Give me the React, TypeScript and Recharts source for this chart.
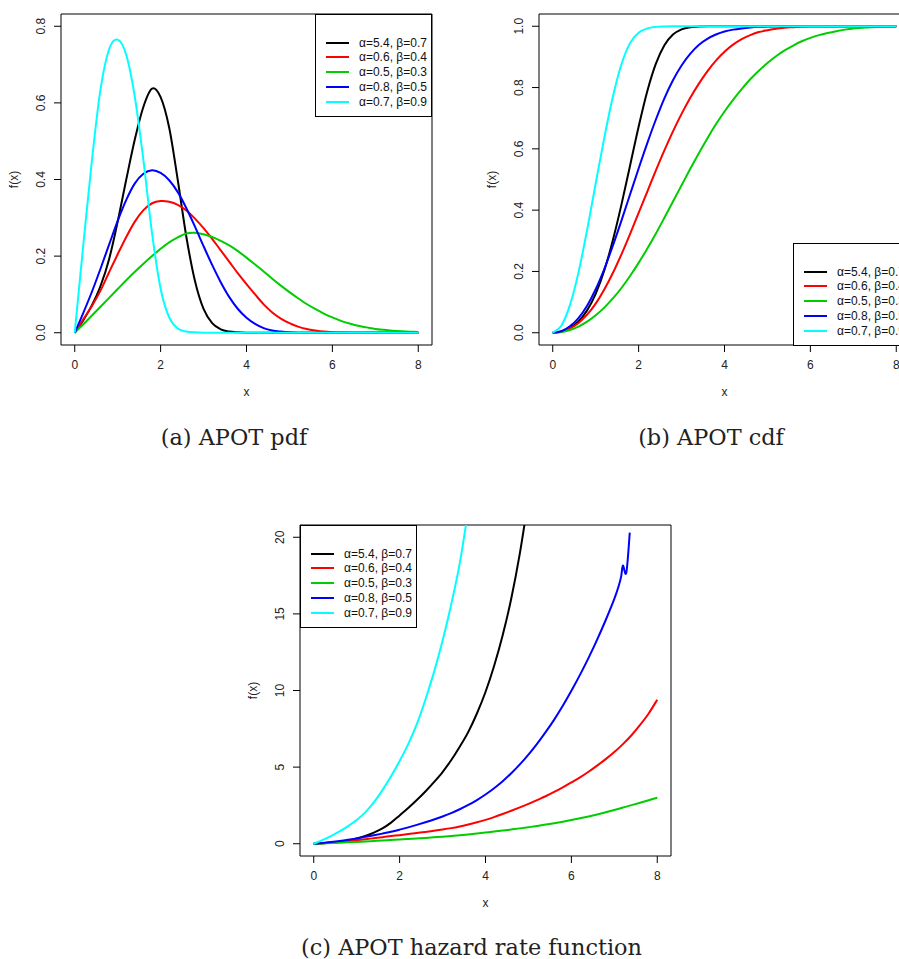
import React from 'react';
import { LineChart, Line, XAxis, YAxis, ReferenceArea, Legend } from 'recharts';

const SANS = '"Liberation Sans", Arial, Helvetica, sans-serif';
const SERIF = '"DejaVu Serif", serif';

// shared x grid (step 0.2)
const xGrid = [0, 0.2, 0.4, 0.6, 0.8, 1, 1.2, 1.4, 1.6, 1.8, 2, 2.2, 2.4, 2.6, 2.8, 3, 3.2, 3.4, 3.6, 3.8, 4, 4.2, 4.4, 4.6, 4.8, 5, 5.2, 5.4, 5.6, 5.8, 6, 6.2, 6.4, 6.6, 6.8, 7, 7.2, 7.4, 7.6, 7.8, 8];

const seriesNames = ['α=5.4, β=0.7', 'α=0.6, β=0.4', 'α=0.5, β=0.3', 'α=0.8, β=0.5', 'α=0.7, β=0.9'];
const seriesColors = ['#000000', '#ff0000', '#00cd00', '#0000ff', '#00ffff'];

const xTicks = [0, 2, 4, 6, 8];
const pdfTicks = [0, 0.2, 0.4, 0.6, 0.8];
const cdfTicks = [0, 0.2, 0.4, 0.6, 0.8, 1];
const hazTicks = [0, 5, 10, 15, 20];

// (a) pdf
const pdfBlack = [0, 0.033, 0.072, 0.122, 0.192, 0.29, 0.4, 0.505, 0.59, 0.637, 0.615, 0.535, 0.398, 0.25, 0.135, 0.062, 0.025, 0.009, 0.003, 0.001, 0, 0, 0, 0, 0, 0, 0, 0, 0, 0, 0, 0, 0, 0, 0, 0, 0, 0, 0, 0, 0];
const pdfRed = [0, 0.035, 0.07, 0.11, 0.158, 0.205, 0.25, 0.29, 0.32, 0.338, 0.344, 0.342, 0.334, 0.319, 0.298, 0.273, 0.245, 0.215, 0.185, 0.155, 0.127, 0.1, 0.074, 0.053, 0.037, 0.025, 0.016, 0.01, 0.006, 0.003, 0.0015, 0.0007, 0.0003, 0, 0, 0, 0, 0, 0, 0, 0];
const pdfGreen = [0, 0.022, 0.045, 0.068, 0.091, 0.114, 0.137, 0.159, 0.18, 0.2, 0.219, 0.236, 0.249, 0.259, 0.261, 0.257, 0.25, 0.24, 0.228, 0.213, 0.196, 0.178, 0.16, 0.141, 0.123, 0.106, 0.09, 0.075, 0.062, 0.05, 0.04, 0.031, 0.024, 0.018, 0.014, 0.01, 0.0075, 0.0055, 0.004, 0.0028, 0.002];
const pdfBlue = [0, 0.052, 0.107, 0.167, 0.23, 0.292, 0.347, 0.39, 0.415, 0.424, 0.417, 0.398, 0.367, 0.325, 0.277, 0.226, 0.177, 0.132, 0.093, 0.062, 0.039, 0.023, 0.012, 0.006, 0.003, 0.001, 0, 0, 0, 0, 0, 0, 0, 0, 0, 0, 0, 0, 0, 0, 0];
const pdfCyan = [0, 0.23, 0.45, 0.635, 0.74, 0.765, 0.725, 0.615, 0.45, 0.26, 0.115, 0.04, 0.011, 0.003, 0.001, 0, 0, 0, 0, 0, 0, 0, 0, 0, 0, 0, 0, 0, 0, 0, 0, 0, 0, 0, 0, 0, 0, 0, 0, 0, 0];

// (b) cdf
const cdfBlack = [0, 0.004, 0.016, 0.037, 0.073, 0.127, 0.203, 0.302, 0.418, 0.545, 0.672, 0.787, 0.877, 0.938, 0.973, 0.99, 0.997, 0.999, 1, 1, 1, 1, 1, 1, 1, 1, 1, 1, 1, 1, 1, 1, 1, 1, 1, 1, 1, 1, 1, 1, 1];
const cdfRed = [0, 0.0035, 0.014, 0.032, 0.059, 0.095, 0.141, 0.195, 0.256, 0.322, 0.391, 0.46, 0.529, 0.595, 0.657, 0.714, 0.766, 0.812, 0.853, 0.888, 0.917, 0.94, 0.958, 0.971, 0.981, 0.987, 0.992, 0.995, 0.997, 0.999, 1, 1, 1, 1, 1, 1, 1, 1, 1, 1, 1];
const cdfGreen = [0, 0.0022, 0.009, 0.02, 0.036, 0.057, 0.082, 0.112, 0.146, 0.185, 0.228, 0.274, 0.323, 0.375, 0.428, 0.481, 0.534, 0.585, 0.634, 0.68, 0.722, 0.76, 0.795, 0.827, 0.855, 0.88, 0.902, 0.921, 0.937, 0.951, 0.962, 0.971, 0.978, 0.984, 0.989, 0.993, 0.995, 0.997, 0.998, 0.999, 1];
const cdfBlue = [0, 0.005, 0.021, 0.048, 0.088, 0.142, 0.208, 0.284, 0.366, 0.451, 0.536, 0.618, 0.695, 0.765, 0.824, 0.872, 0.91, 0.939, 0.959, 0.973, 0.983, 0.989, 0.993, 0.996, 0.998, 0.999, 1, 1, 1, 1, 1, 1, 1, 1, 1, 1, 1, 1, 1, 1, 1];
const cdfCyan = [0, 0.023, 0.09, 0.197, 0.335, 0.487, 0.636, 0.77, 0.876, 0.945, 0.979, 0.993, 0.998, 0.9995, 1, 1, 1, 1, 1, 1, 1, 1, 1, 1, 1, 1, 1, 1, 1, 1, 1, 1, 1, 1, 1, 1, 1, 1, 1, 1, 1];

// (c) hazard rate (cyan and black run out through the top of the frame)
const hazBlack = [0, 0.035, 0.076, 0.13, 0.215, 0.35, 0.51, 0.73, 1.0, 1.38, 1.85, 2.33, 2.85, 3.41, 4.02, 4.68, 5.45, 6.33, 7.3, 8.5, 9.9, 11.6, 13.6, 16.0, 18.95, 22.5, null, null, null, null, null, null, null, null, null, null, null, null, null, null, null];
const hazRed = [0, 0.035, 0.07, 0.11, 0.165, 0.225, 0.29, 0.36, 0.43, 0.5, 0.56, 0.63, 0.7, 0.77, 0.85, 0.93, 1.02, 1.13, 1.26, 1.4, 1.56, 1.74, 1.94, 2.15, 2.37, 2.6, 2.85, 3.1, 3.38, 3.68, 4.0, 4.33, 4.7, 5.1, 5.52, 5.98, 6.5, 7.08, 7.75, 8.5, 9.4];
const hazGreen = [0, 0.022, 0.045, 0.069, 0.093, 0.12, 0.148, 0.178, 0.21, 0.243, 0.278, 0.31, 0.345, 0.382, 0.42, 0.46, 0.505, 0.555, 0.61, 0.668, 0.73, 0.793, 0.86, 0.93, 1.003, 1.08, 1.16, 1.25, 1.34, 1.44, 1.55, 1.66, 1.78, 1.91, 2.05, 2.2, 2.36, 2.52, 2.68, 2.84, 3.0];
const hazCyan = [0, 0.24, 0.5, 0.8, 1.15, 1.55, 2.05, 2.7, 3.5, 4.4, 5.4, 6.5, 7.8, 9.4, 11.2, 13.25, 15.6, 18.3, 21.8, null, null, null, null, null, null, null, null, null, null, null, null, null, null, null, null, null, null, null, null, null, null];
// blue hazard stops near x=7.36 with a small wiggle just before
const hazBlueX = [0, 0.2, 0.4, 0.6, 0.8, 1, 1.2, 1.4, 1.6, 1.8, 2, 2.2, 2.4, 2.6, 2.8, 3, 3.2, 3.4, 3.6, 3.8, 4, 4.2, 4.4, 4.6, 4.8, 5, 5.2, 5.4, 5.6, 5.8, 6, 6.2, 6.4, 6.6, 6.8, 7, 7.1, 7.16, 7.2, 7.28, 7.36];
const hazBlue = [0, 0.05, 0.107, 0.173, 0.254, 0.347, 0.448, 0.55, 0.66, 0.78, 0.92, 1.07, 1.23, 1.4, 1.58, 1.78, 2.0, 2.25, 2.53, 2.85, 3.21, 3.62, 4.08, 4.6, 5.18, 5.82, 6.52, 7.28, 8.1, 9.0, 9.98, 11.02, 12.13, 13.32, 14.6, 15.98, 16.8, 17.45, 18.15, 17.7, 20.3];

const toRows = (xs: number[], ys: (number | null)[]) => xs.map((x, i) => ({ x, y: ys[i] }));

// Catmull-Rom style curve through the points (smooth peaks, no global ringing)
function smoothCurve(context: any) {
  let pts: number[][] = [];
  return {
    areaStart() {},
    areaEnd() {},
    lineStart() {
      pts = [];
    },
    point(x: number, y: number) {
      pts.push([+x, +y]);
    },
    lineEnd() {
      const n = pts.length;
      if (!n) return;
      context.moveTo(pts[0][0], pts[0][1]);
      for (let i = 0; i < n - 1; i++) {
        const p0 = pts[i - 1] || pts[i];
        const p1 = pts[i];
        const p2 = pts[i + 1];
        const p3 = pts[i + 2] || p2;
        context.bezierCurveTo(
          p1[0] + (p2[0] - p0[0]) / 6, p1[1] + (p2[1] - p0[1]) / 6,
          p2[0] - (p3[0] - p1[0]) / 6, p2[1] - (p3[1] - p1[1]) / 6,
          p2[0], p2[1],
        );
      }
    },
  };
}

const PLOT_W = 371;
const PLOT_H = 331;
const AX_W = 61;
const AX_H = 75;
const M_TOP = 14;
const M_RIGHT = 18;
const X_DOMAIN: [number, number] = [-0.32, 8.32];

function XTick({ x, y, payload }: any) {
  return (
    <text x={x} y={y + 15.3} textAnchor="middle" fontSize={12} fontFamily={SANS} fill="#222">
      {payload.value}
    </text>
  );
}

function YTick({ x, y, payload, fmt }: any) {
  return (
    <text transform={`translate(${x - 6.7},${y}) rotate(-90)`} textAnchor="middle" fontSize={12} fontFamily={SANS} fill="#222">
      {fmt(payload.value)}
    </text>
  );
}

function XTitle({ viewBox }: any) {
  return (
    <text x={viewBox.x + viewBox.width / 2} y={viewBox.y + 51} textAnchor="middle" fontSize={12} fontFamily={SANS} fill="#222">
      x
    </text>
  );
}

function YTitle({ viewBox }: any) {
  const cx = viewBox.x + viewBox.width - 43;
  const cy = viewBox.y + viewBox.height / 2;
  return (
    <text transform={`translate(${cx},${cy}) rotate(-90)`} textAnchor="middle" fontSize={12} fontFamily={SANS} fill="#222">
      f(x)
    </text>
  );
}

function LegendBox({ payload }: any) {
  const items = [...(payload || [])].sort((a: any, b: any) => seriesNames.indexOf(a.value) - seriesNames.indexOf(b.value));
  return (
    <div style={{ position: 'relative', width: '100%', height: '100%', border: '1px solid #000', boxSizing: 'border-box', background: '#fff' }}>
      {items.map((e: any, i: number) => (
        <div key={i} style={{ position: 'absolute', left: 10, top: 20.7 + i * 14.7, height: 14, display: 'flex', alignItems: 'center', whiteSpace: 'nowrap' }}>
          <span style={{ display: 'inline-block', width: 23, height: 2, background: e.color }} />
          <span style={{ marginLeft: 10, fontSize: 12, lineHeight: '14px', fontFamily: SANS, color: '#111' }}>{e.value}</span>
        </div>
      ))}
    </div>
  );
}

type Series = { xs: number[]; ys: (number | null)[] };

function Panel({ boxLeft, boxTop, yDomain, yTicks, yFmt, lines, legendLeft, legendTop }: {
  boxLeft: number; boxTop: number; yDomain: [number, number]; yTicks: number[];
  yFmt: (v: number) => string; lines: Series[]; legendLeft: number; legendTop: number;
}) {
  return (
    <div style={{ position: 'absolute', left: boxLeft - AX_W, top: boxTop - M_TOP }}>
      <LineChart width={AX_W + PLOT_W + M_RIGHT} height={M_TOP + PLOT_H + AX_H} margin={{ top: M_TOP, right: M_RIGHT, bottom: 0, left: 0 }}>
        <XAxis
          type="number" dataKey="x" domain={X_DOMAIN} ticks={xTicks} interval={0} allowDataOverflow
          axisLine={false} tickSize={7} tickMargin={2} tickLine={{ stroke: '#000' }} height={AX_H}
          tick={(p: any) => <XTick {...p} />} label={{ content: (p: any) => <XTitle {...p} /> }}
        />
        <YAxis
          type="number" domain={yDomain} ticks={yTicks} interval={0} allowDataOverflow
          axisLine={false} tickSize={7} tickMargin={2} tickLine={{ stroke: '#000' }} width={AX_W}
          tick={(p: any) => <YTick {...p} fmt={yFmt} />} label={{ content: (p: any) => <YTitle {...p} /> }}
        />
        <ReferenceArea x1={X_DOMAIN[0]} x2={X_DOMAIN[1]} y1={yDomain[0]} y2={yDomain[1]} fill="none" fillOpacity={0} stroke="#000" strokeWidth={1} ifOverflow="visible" />
        {lines.map((s, i) => (
          <Line
            key={seriesNames[i]} data={toRows(s.xs, s.ys)} dataKey="y" name={seriesNames[i]}
            stroke={seriesColors[i]} strokeWidth={2} dot={false} activeDot={false}
            type={smoothCurve as any} isAnimationActive={false}
          />
        ))}
        <Legend
          layout="vertical" align="center" verticalAlign="middle" content={(p: any) => <LegendBox {...p} />}
          wrapperStyle={{ left: legendLeft, top: legendTop, width: 117, height: 103 }}
        />
      </LineChart>
    </div>
  );
}

export default function App() {
  const fmt1 = (v: number) => v.toFixed(1);
  const fmt0 = (v: number) => String(v);
  return (
    <div style={{ position: 'absolute', left: 0, top: 0, width: 899, height: 959, overflow: 'hidden', background: '#fff' }}>
      <Panel
        boxLeft={61} boxTop={14} yDomain={[-0.032, 0.832]} yTicks={pdfTicks} yFmt={fmt1}
        lines={[pdfBlack, pdfRed, pdfGreen, pdfBlue, pdfCyan].map((ys) => ({ xs: xGrid, ys }))}
        legendLeft={315} legendTop={14}
      />
      <Panel
        boxLeft={539} boxTop={14} yDomain={[-0.04, 1.04]} yTicks={cdfTicks} yFmt={fmt1}
        lines={[cdfBlack, cdfRed, cdfGreen, cdfBlue, cdfCyan].map((ys) => ({ xs: xGrid, ys }))}
        legendLeft={315} legendTop={243}
      />
      <Panel
        boxLeft={300} boxTop={525} yDomain={[-0.8, 20.8]} yTicks={hazTicks} yFmt={fmt0}
        lines={[
          { xs: xGrid, ys: hazBlack },
          { xs: xGrid, ys: hazRed },
          { xs: xGrid, ys: hazGreen },
          { xs: hazBlueX, ys: hazBlue },
          { xs: xGrid, ys: hazCyan },
        ]}
        legendLeft={61} legendTop={14}
      />
      <svg width={899} height={959} style={{ position: 'absolute', left: 0, top: 0, pointerEvents: 'none' }}>
        <text x={234} y={445} textAnchor="middle" fontFamily={SERIF} fontSize={22.4} fill="#222">(a) APOT pdf</text>
        <text x={711} y={445} textAnchor="middle" fontFamily={SERIF} fontSize={22.4} fill="#222">(b) APOT cdf</text>
        <text x={471.5} y={955} textAnchor="middle" fontFamily={SERIF} fontSize={22.4} fill="#222">(c) APOT hazard rate function</text>
      </svg>
    </div>
  );
}
